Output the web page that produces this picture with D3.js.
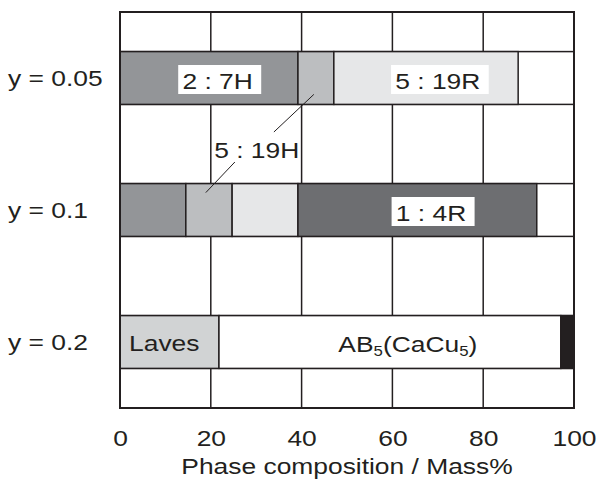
<!DOCTYPE html>
<html>
  <body style="margin:0;background:#fff">
    <style>
      svg text {
        font-family: 'Liberation Sans', Arial, sans-serif;
        font-size: 22px;
        fill: #231f20;
      }
    </style>
    <div class="chart"></div>
    <script src="https://cdn.jsdelivr.net/npm/d3@7"></script>
    <script type="text/javascript">
      const width = 599;
      const height = 485;
      const margin = { top: 12, right: 25, bottom: 77, left: 120 };
      const stretch = 1.2; // text in the figure is drawn wider than normal

      // rows (composition)
      const rows = ['y = 0.05', 'y = 0.1', 'y = 0.2'];
      // phases and their mass% in each row
      const phases = ['2 : 7H', '5 : 19H', '5 : 19R', '1 : 4R', 'Laves', 'AB5', 'other'];
      const phase27H = [39.2, 14.5, 0];
      const phase519H = [7.9, 10.2, 0];
      const phase519R = [40.6, 14.5, 0];
      const phase14R = [0, 52.6, 0];
      const phaseLaves = [0, 0, 21.8];
      const phaseAB5 = [0, 0, 75.3];
      const phaseOther = [0, 0, 2.9];
      const colors = ['#939598', '#bcbec0', '#e6e7e8', '#6d6e71', '#d1d3d4', '#ffffff', '#231f20'];
      const xTicks = [0, 20, 40, 60, 80, 100];

      // boxed labels: [row, x in %]
      const boxLabels = [
        { text: '2 : 7H', row: 'y = 0.05', x: 21.5 },
        { text: '5 : 19R', row: 'y = 0.05', x: 70 },
        { text: '1 : 4R', row: 'y = 0.1', x: 68.5 },
      ];

      const table = rows.map((r, i) => ({
        row: r,
        '2 : 7H': phase27H[i],
        '5 : 19H': phase519H[i],
        '5 : 19R': phase519R[i],
        '1 : 4R': phase14R[i],
        Laves: phaseLaves[i],
        AB5: phaseAB5[i],
        other: phaseOther[i],
      }));
      const series = d3.stack().keys(phases)(table);

      const x = d3.scaleLinear().domain([0, 100]).range([margin.left, width - margin.right]);
      const y = d3
        .scaleBand()
        .domain(rows)
        .range([margin.top, height - margin.bottom])
        .paddingInner(0.6)
        .paddingOuter(0.3);

      const svg = d3.select('.chart').append('svg').attr('width', width).attr('height', height);
      const line = '#231f20';

      // vertical grid lines
      svg
        .append('g')
        .selectAll('line')
        .data(xTicks.slice(1, -1))
        .enter()
        .append('line')
        .attr('x1', (d) => x(d))
        .attr('x2', (d) => x(d))
        .attr('y1', y.range()[0])
        .attr('y2', y.range()[1])
        .attr('stroke', line)
        .attr('stroke-width', 1.5);

      // white background for each bar
      svg
        .append('g')
        .selectAll('rect')
        .data(rows)
        .enter()
        .append('rect')
        .attr('x', x(0))
        .attr('y', (d) => y(d))
        .attr('width', x(100) - x(0))
        .attr('height', y.bandwidth())
        .attr('fill', '#fff')
        .attr('stroke', line)
        .attr('stroke-width', 1.5);

      // stacked segments
      svg
        .append('g')
        .selectAll('g')
        .data(series)
        .enter()
        .append('g')
        .attr('fill', (d, i) => colors[i])
        .selectAll('rect')
        .data((d) => d.filter((s) => s[1] - s[0] > 0))
        .enter()
        .append('rect')
        .attr('x', (d) => x(d[0]))
        .attr('y', (d) => y(d.data.row))
        .attr('width', (d) => x(d[1]) - x(d[0]))
        .attr('height', y.bandwidth())
        .attr('stroke', line)
        .attr('stroke-width', 1.5);

      // frame
      svg
        .append('rect')
        .attr('x', x(0))
        .attr('y', y.range()[0])
        .attr('width', x(100) - x(0))
        .attr('height', y.range()[1] - y.range()[0])
        .attr('fill', 'none')
        .attr('stroke', line)
        .attr('stroke-width', 2);

      // boxed labels
      boxLabels.forEach((l) => {
        const cy = y(l.row) + y.bandwidth() / 2;
        const g = svg
          .append('g')
          .attr('transform', `translate(${x(l.x)},${cy + 11}) scale(${stretch},1)`);
        const rect = g.append('rect').attr('fill', '#fff');
        const t = g.append('text').attr('text-anchor', 'middle').text(l.text);
        const bb = t.node().getBBox();
        rect
          .attr('x', bb.x - 3.5)
          .attr('y', -24)
          .attr('width', bb.width + 10.5)
          .attr('height', 29);
      });

      // 5 : 19H label with leader lines
      const mid = (y('y = 0.05') + y.bandwidth() + y('y = 0.1')) / 2;
      svg
        .append('text')
        .attr('text-anchor', 'middle')
        .attr('transform', `translate(${x(30.1)},${mid + 14}) scale(${stretch},1)`)
        .text('5 : 19H');
      const leaders = [
        [[33.9, mid - 12], [42.7, y('y = 0.05') + y.bandwidth() - 10]],
        [[25.3, mid + 18], [18.9, y('y = 0.1') + 9]],
      ];
      svg
        .append('g')
        .selectAll('line')
        .data(leaders)
        .enter()
        .append('line')
        .attr('x1', (d) => x(d[0][0]))
        .attr('y1', (d) => d[0][1])
        .attr('x2', (d) => x(d[1][0]))
        .attr('y2', (d) => d[1][1])
        .attr('stroke', line)
        .attr('stroke-width', 1);

      // Laves and AB5 labels
      const cy3 = y('y = 0.2') + y.bandwidth() / 2;
      svg
        .append('text')
        .attr('transform', `translate(${x(2)},${cy3 + 9}) scale(${stretch},1)`)
        .text('Laves');
      const ab = svg
        .append('text')
        .attr('transform', `translate(${x(48.1)},${cy3 + 10}) scale(${stretch},1)`);
      ab.append('tspan').text('AB');
      ab.append('tspan').attr('dy', 4).style('font-size', '14px').text('5');
      ab.append('tspan').attr('dy', -4).text('(CaCu');
      ab.append('tspan').attr('dy', 4).style('font-size', '14px').text('5');
      ab.append('tspan').attr('dy', -4).text(')');

      // row labels
      svg
        .append('g')
        .selectAll('text')
        .data(rows)
        .enter()
        .append('text')
        .attr('transform', (d) => `translate(8,${y(d) + y.bandwidth() / 2 + 7.5}) scale(${stretch},1)`)
        .text((d) => d);

      // x axis
      const axis = svg
        .append('g')
        .attr('transform', `translate(0,${y.range()[1]})`)
        .call(d3.axisBottom(x).tickValues(xTicks).tickSize(0).tickPadding(0));
      axis.select('.domain').remove();
      axis
        .selectAll('text')
        .attr('dy', null)
        .attr('y', 38)
        .attr('font-size', null)
        .attr('font-family', null)
        .attr('fill', null)
        .attr('transform', `scale(${stretch},1)`);

      svg
        .append('text')
        .attr('text-anchor', 'middle')
        .attr('transform', `translate(${x(50)},${height - 11}) scale(${stretch},1)`)
        .text('Phase composition / Mass%');
    </script>
  </body>
</html>
